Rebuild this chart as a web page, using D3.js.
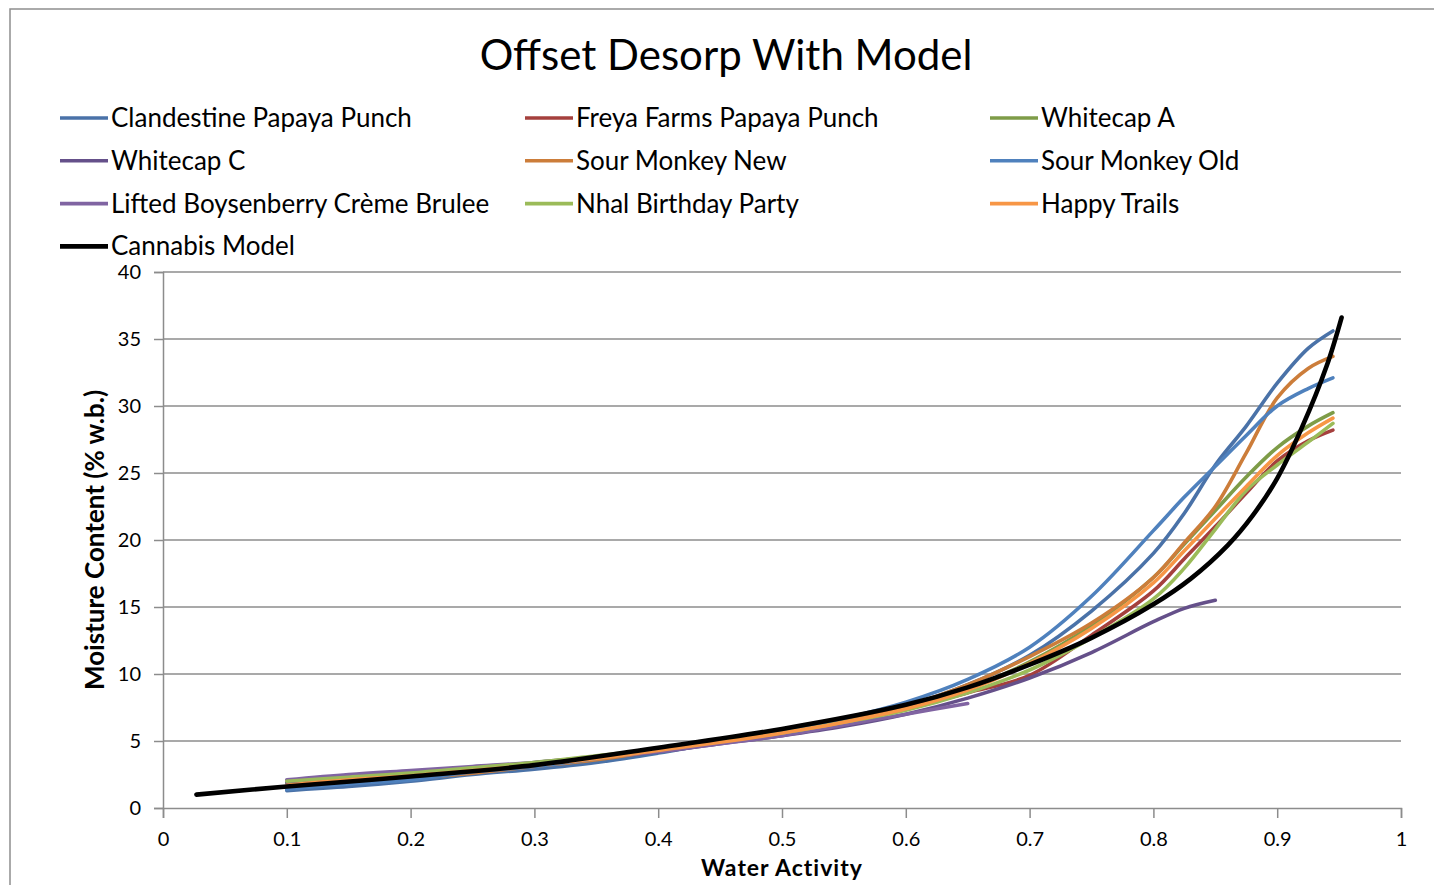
<!DOCTYPE html>
<html>
<head>
<meta charset="utf-8">
<script src="https://cdn.jsdelivr.net/npm/d3@7/dist/d3.min.js"></script>
<style>
  body { margin: 0; background: #fff; }
  svg { display: block; font-family: Lato, "Open Sans", sans-serif; }
</style>
</head>
<body>
<svg id="chart" width="1434" height="885"></svg>
<script>
// water activity grid shared by the measured series
const awGrid = [0.1, 0.15, 0.2, 0.25, 0.3, 0.35, 0.4, 0.45, 0.5, 0.55, 0.6, 0.65, 0.7, 0.75, 0.8, 0.825, 0.85, 0.875, 0.9, 0.925, 0.945];

const clandestine   = [1.3, 1.6, 2.0, 2.5, 2.9, 3.4, 4.1, 4.9, 5.6, 6.5, 7.6, 9.2, 11.4, 14.7, 19.0, 22.0, 25.6, 28.5, 31.7, 34.3, 35.6];
const freya         = [1.6, 2.0, 2.4, 2.8, 3.2, 3.7, 4.3, 4.9, 5.6, 6.4, 7.4, 8.6, 9.9, 12.9, 16.2, 18.6, 21.0, 23.5, 25.9, 27.4, 28.2];
const whitecapA     = [1.9, 2.2, 2.5, 2.9, 3.4, 3.8, 4.4, 5.0, 5.7, 6.5, 7.5, 8.9, 10.9, 13.6, 17.2, 19.7, 22.2, 24.7, 26.9, 28.5, 29.5];
const whitecapC     = [1.9, 2.3, 2.6, 3.0, 3.3, 3.7, 4.2, 4.8, 5.4, 6.1, 7.0, 8.2, 9.7, 11.6, 13.9, 14.9, 15.5, null, null, null, null];
const sourMonkeyNew = [1.5, 1.9, 2.2, 2.6, 3.1, 3.6, 4.3, 5.0, 5.7, 6.5, 7.6, 9.2, 11.3, 13.8, 17.2, 19.8, 22.5, 26.5, 30.6, 32.8, 33.7];
const sourMonkeyOld = [1.4, 1.8, 2.1, 2.7, 3.1, 3.7, 4.3, 5.0, 5.8, 6.7, 7.9, 9.6, 12.0, 15.8, 20.7, 23.2, 25.5, 27.8, 30.0, 31.3, 32.1];
const lifted        = [2.1, 2.5, 2.8, 3.1, 3.4, 3.8, 4.2, 4.8, 5.4, 6.2, 7.0, 7.8, null, null, null, null, null, null, null, null, null];
const nhal          = [2.0, 2.3, 2.6, 3.0, 3.4, 3.9, 4.4, 5.0, 5.6, 6.4, 7.3, 8.6, 10.3, 12.7, 15.6, 17.9, 20.8, 23.7, 25.6, 27.3, 28.7];
const happyTrails   = [1.7, 2.1, 2.4, 2.8, 3.2, 3.7, 4.3, 4.9, 5.6, 6.4, 7.4, 8.8, 10.8, 13.4, 16.8, 19.2, 21.6, 24.0, 26.3, 28.0, 29.1];

// model curve
const modelAw = [0.027, 0.1, 0.2, 0.3, 0.4, 0.5, 0.6, 0.65, 0.7, 0.75, 0.8, 0.83, 0.86, 0.88, 0.9, 0.92, 0.94, 0.952];
const modelMc = [1.0, 1.6, 2.35, 3.2, 4.5, 5.9, 7.7, 9.0, 10.7, 12.7, 15.2, 17.1, 19.6, 21.8, 24.6, 28.4, 33.0, 36.6];

const seriesNames = ["Clandestine Papaya Punch", "Freya Farms Papaya Punch", "Whitecap A",
  "Whitecap C", "Sour Monkey New", "Sour Monkey Old",
  "Lifted Boysenberry Crème Brulee", "Nhal Birthday Party", "Happy Trails", "Cannabis Model"];
const seriesColors = ["#4A72A8", "#A5403D", "#7E9C48", "#65508A", "#CC7D3A", "#4F81BD",
  "#8064A2", "#9BBB59", "#F79646", "#000000"];

const xTicks = [0, 0.1, 0.2, 0.3, 0.4, 0.5, 0.6, 0.7, 0.8, 0.9, 1];
const yTicks = [0, 5, 10, 15, 20, 25, 30, 35, 40];

const measured = [clandestine, freya, whitecapA, whitecapC, sourMonkeyNew, sourMonkeyOld, lifted, nhal, happyTrails];
let series = measured.map((vals, i) => ({
  name: seriesNames[i],
  color: seriesColors[i],
  width: 3.6,
  points: awGrid.map((a, j) => [a, vals[j]])
}));
series.push({
  name: seriesNames[9],
  color: seriesColors[9],
  width: 4.6,
  points: modelAw.map((a, j) => [a, modelMc[j]])
});

let svg = d3.select("#chart");

// outer chart frame (cropped on right and bottom)
svg.append("rect")
  .attr("x", 10).attr("y", 9)
  .attr("width", 1460).attr("height", 900)
  .attr("fill", "none").attr("stroke", "#8e8e8e").attr("stroke-width", 1.5);

let xScale = d3.scaleLinear().domain([0, 1]).range([163, 1401]);
let yScale = d3.scaleLinear().domain([0, 40]).range([808, 272]);

// gridlines
svg.append("g")
  .selectAll("line")
  .data(yTicks.slice(1))
  .enter()
  .append("line")
  .attr("x1", xScale(0)).attr("x2", xScale(1))
  .attr("y1", d => yScale(d)).attr("y2", d => yScale(d))
  .attr("stroke", "#8c8c8c").attr("stroke-width", 1.5);

let xAxis = d3.axisBottom(xScale).tickValues(xTicks).tickFormat(d3.format("~g")).tickSize(10).tickPadding(14);
let yAxis = d3.axisLeft(yScale).tickValues(yTicks).tickSize(9).tickPadding(13);

let gx = svg.append("g")
  .attr("transform", "translate(0," + yScale(0) + ")")
  .call(xAxis);
let gy = svg.append("g")
  .attr("transform", "translate(" + xScale(0) + ",0)")
  .call(yAxis);

[gx, gy].forEach(g => {
  g.select(".domain").attr("stroke", "#8c8c8c").attr("stroke-width", 1.5);
  g.selectAll(".tick line").attr("stroke", "#8c8c8c").attr("stroke-width", 1.5);
  g.selectAll(".tick text")
    .attr("fill", "#000")
    .style("font-family", "Lato, sans-serif")
    .style("font-size", "20px");
});

// lines
let line = d3.line()
  .defined(d => d[1] != null)
  .x(d => xScale(d[0]))
  .y(d => yScale(d[1]))
  .curve(d3.curveCatmullRom.alpha(0.5));

svg.append("g")
  .selectAll("path")
  .data(series)
  .enter()
  .append("path")
  .attr("d", d => line(d.points))
  .attr("fill", "none")
  .attr("stroke", d => d.color)
  .attr("stroke-width", d => d.width)
  .attr("stroke-linejoin", "round")
  .attr("stroke-linecap", "round");

// title
svg.append("text")
  .attr("x", 726).attr("y", 70)
  .attr("text-anchor", "middle")
  .style("font-size", "42px")
  .text("Offset Desorp With Model");

// axis titles
svg.append("text")
  .attr("x", 782).attr("y", 876)
  .attr("text-anchor", "middle")
  .style("font-size", "23px").style("font-weight", "bold")
  .style("letter-spacing", "1px")
  .text("Water Activity");

svg.append("text")
  .attr("transform", "translate(104,540) rotate(-90)")
  .attr("text-anchor", "middle")
  .style("font-size", "26px").style("font-weight", "bold")
  .text("Moisture Content (% w.b.)");

// legend, 3 columns
let legendX = [60, 525, 990];
let legend = svg.append("g")
  .selectAll("g")
  .data(series)
  .enter()
  .append("g")
  .attr("transform", (d, i) => "translate(" + legendX[i % 3] + "," + (118 + Math.floor(i / 3) * 42.8) + ")");

legend.append("line")
  .attr("x1", 0).attr("x2", 48)
  .attr("stroke", d => d.color)
  .attr("stroke-width", d => d.width);

legend.append("text")
  .attr("x", 51).attr("y", 9)
  .style("font-size", "26px")
  .text(d => d.name);
</script>
</body>
</html>
